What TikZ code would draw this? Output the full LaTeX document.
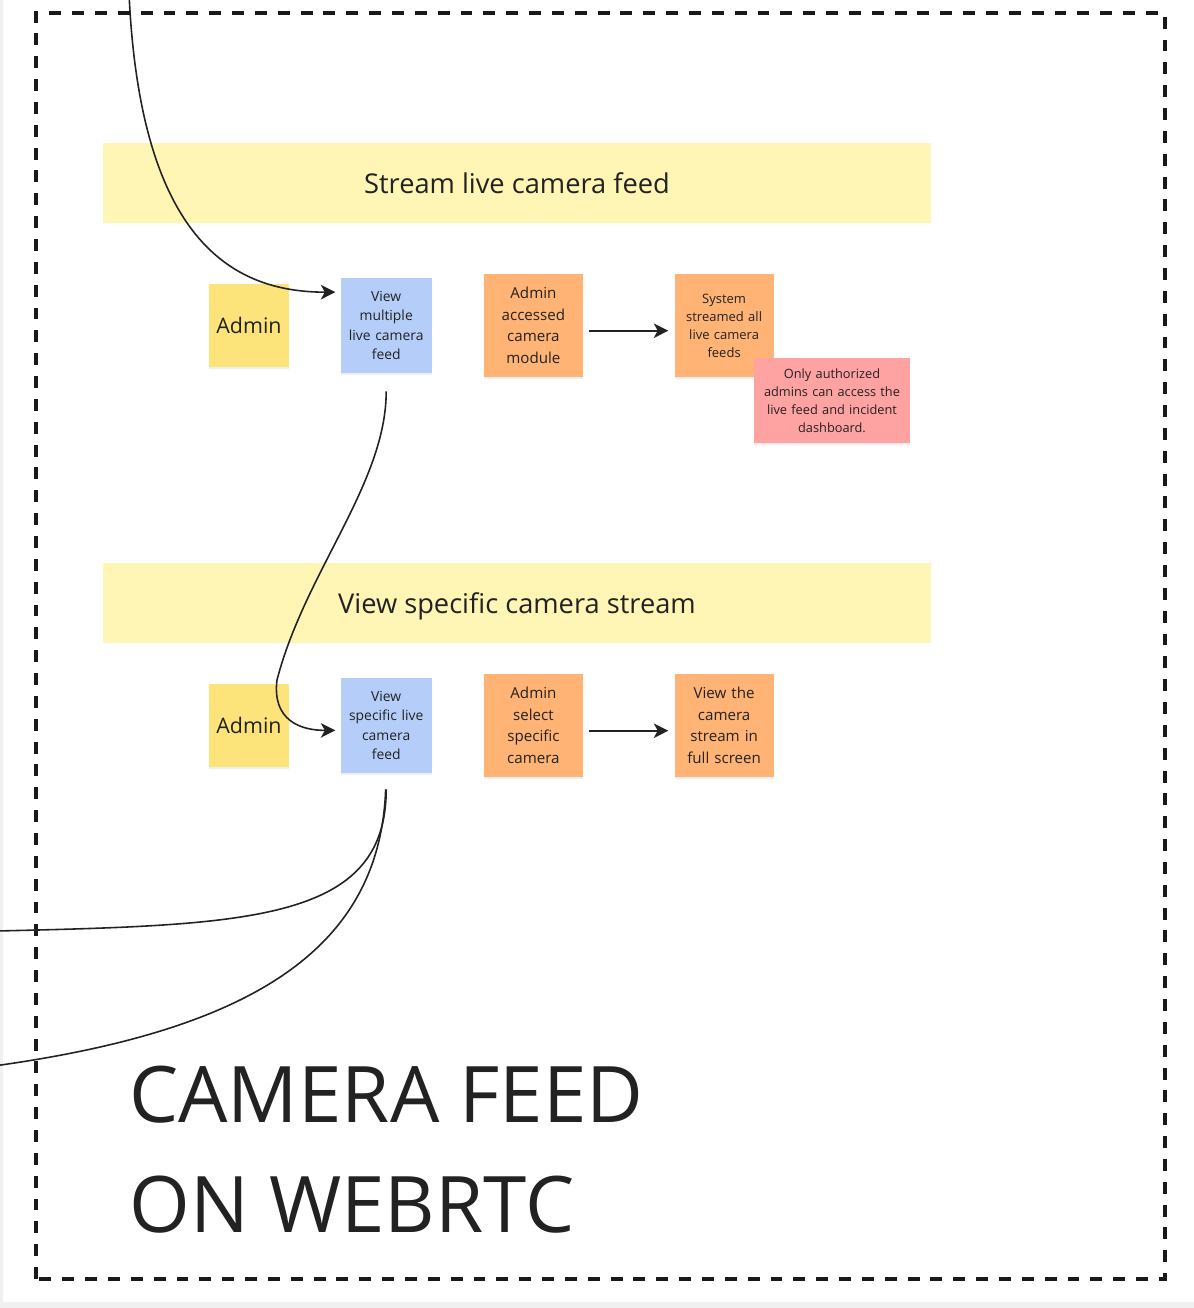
\documentclass[tikz,border=0pt]{standalone}
\usepackage{fontspec}
\setmainfont{Open Sans}
\usetikzlibrary{arrows.meta, positioning, calc, shadows}

\definecolor{bandyellow}{HTML}{FFF5B5}
\definecolor{adminyellow}{HTML}{FCE47A}
\definecolor{taskblue}{HTML}{B5CDF9}
\definecolor{taskorange}{HTML}{FFB374}
\definecolor{notepink}{HTML}{FFA2A2}
\definecolor{inkgrey}{HTML}{222222}

\begin{document}
\begin{tikzpicture}[
    >={Stealth[length=2.9mm, width=2.9mm, inset=0.8mm]},
    every node/.style={text=inkgrey, inner sep=0pt},
    sticky/.style={drop shadow={opacity=0.12, shadow xshift=0pt, shadow yshift=-1.2pt}},
    band/.style={fill=bandyellow, minimum width=16.56cm, minimum height=1.6cm, text depth=0pt, font=\fontsize{15.5}{18}\selectfont},
    admin/.style={sticky, fill=adminyellow, minimum width=1.6cm, minimum height=1.66cm, font=\fontsize{12.2}{15}\selectfont},
    usecase/.style={sticky, fill=taskblue, minimum width=1.82cm, minimum height=1.9cm, text width=1.75cm, align=center, font=\fontsize{7.9}{11.1}\selectfont},
    action/.style={sticky, fill=taskorange, minimum width=1.98cm, minimum height=2.06cm, text width=1.9cm, align=center, font=\fontsize{8.6}{12.2}\selectfont},
    note/.style={sticky, fill=notepink, minimum width=3.12cm, minimum height=1.7cm, text width=3.05cm, align=center, font=\fontsize{7.27}{10.2}\selectfont},
    flow/.style={->, draw=inkgrey, line width=0.9pt, shorten <=0.12cm, shorten >=0.12cm},
    link/.style={draw=inkgrey, line width=0.9pt}
]

% page and frame
\useasboundingbox (0, 0) rectangle (23.88, 26.16);
\fill[black!6] (0, 0) rectangle (23.88, 26.16);
\fill[white] (0.06, 0.12) rectangle (23.88, 26.16);
\draw[draw=black!90, line width=2pt, dash pattern=on 6.8pt off 6.2pt] (0.72, 0.58) rectangle (23.3, 25.9);

\node (Band1) at (10.34, 22.5) [band] {Stream live camera feed};
\node (Band2) at (10.34, 14.1) [band] {View specific camera stream};

\node (Admin1) at (4.98, 19.65) [admin] {Admin};
\node (Blue1) [right=1.02cm of Admin1, usecase] {View\\multiple\\live camera\\feed};
\node (Orange1) [right=1.03cm of Blue1, action] {Admin\\accessed\\camera\\module};
\node (System) [right=1.82cm of Orange1, action, font=\fontsize{7.4}{10.2}\selectfont] {System\\streamed all\\live camera\\feeds};
\node (Note) at (16.64, 18.15) [note] {Only authorized\\admins can access the\\live feed and incident\\dashboard.};

\node (Admin2) at (4.98, 11.65) [admin] {Admin};
\node (Blue2) [right=1.02cm of Admin2, usecase] {View\\specific live\\camera\\feed};
\node (Orange3) [right=1.03cm of Blue2, action] {Admin\\select\\specific\\camera};
\node (Orange4) [right=1.82cm of Orange3, action] {View the\\camera\\stream in\\full screen};

\draw[flow] (Orange1.-6) -- (System.186);
\draw[flow] (Orange3.-6) -- (Orange4.186);

\coordinate (TopIn) at (2.58, 26.3);
\coordinate (LeftA) at (-0.05, 7.54);
\coordinate (LeftB) at (-0.05, 4.85);

\draw[link, ->, shorten >=0.1cm] (TopIn) .. controls +(0.22, -4.9) and +(-2.2, 0) .. (Blue1.144);
\draw[link, ->, shorten <=0.36cm, shorten >=0.1cm] (Blue1.south) .. controls +(0, -2.2) and (6.1, 14.72) .. (5.54, 12.56) .. controls (5.44, 11.76) and (6.0, 11.55) .. (Blue2.186);
\draw[link, shorten <=0.32cm] (Blue2.south) .. controls +(0, -2.96) and (5.0, 7.66) .. (LeftA);
\draw[link, shorten <=0.32cm] (Blue2.south) .. controls (7.6, 7.16) and (5.0, 5.56) .. (LeftB);

\node (Title) at (2.58, 1.5) [anchor=base west, align=left, font=\fontsize{44.4}{63}\selectfont] {CAMERA FEED\\ON WEBRTC};

\end{tikzpicture}
\end{document}
